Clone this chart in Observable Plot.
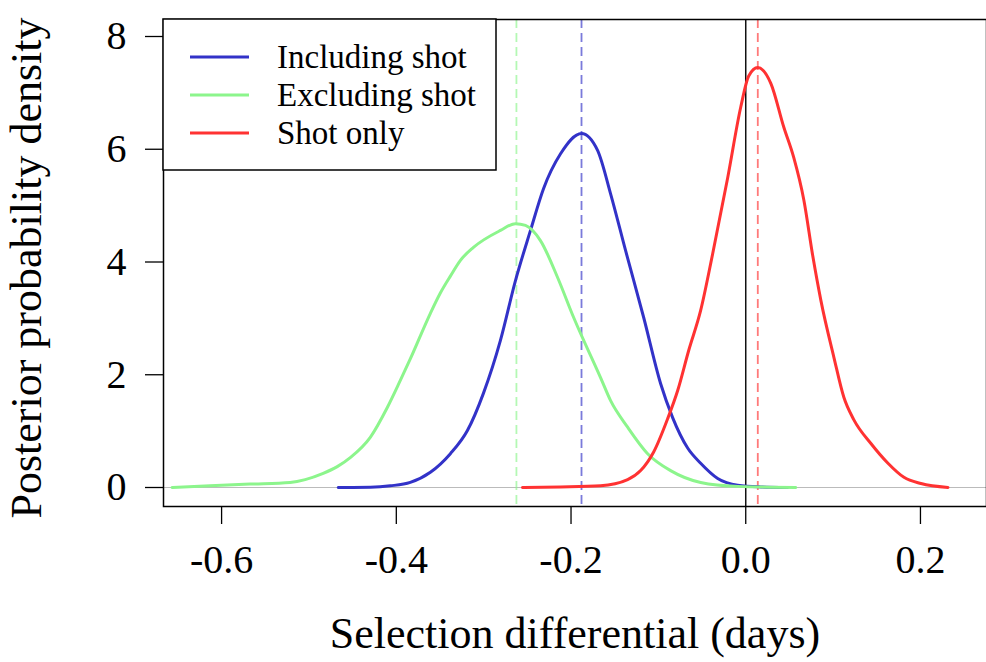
<!DOCTYPE html>
<html>
<head>
<meta charset="utf-8">
<script src="https://cdn.jsdelivr.net/npm/d3@7"></script>
<script src="https://cdn.jsdelivr.net/npm/@observablehq/plot@0.6"></script>
<style>
  html, body { margin: 0; padding: 0; background: #fff; }
  #chart svg { display: block; }
</style>
</head>
<body>
<div id="chart"></div>
<script>
// Series names and colours
const seriesNames = ["Including shot", "Excluding shot", "Shot only"];
const seriesColors = ["#3232c8", "#8cf58c", "#ff3232"];

// Including shot (blue) density curve
const inclX = [-0.4665, -0.4298, -0.4069, -0.3840, -0.3610, -0.3381, -0.3186, -0.3003, -0.2808, -0.2636, -0.2464, -0.2315, -0.2120, -0.1880, -0.1696, -0.1547, -0.1375, -0.1169, -0.0974, -0.0837, -0.0665, -0.0516, -0.0321, -0.0092, 0.0172, 0.0480];
const inclY = [0, 0.005, 0.03, 0.09, 0.27, 0.60, 1.01, 1.67, 2.61, 3.67, 4.56, 5.30, 5.92, 6.28, 5.98, 5.21, 4.20, 3.02, 1.84, 1.24, 0.70, 0.43, 0.16, 0.04, 0.01, 0];

// Excluding shot (green) density curve
const exclX = [-0.6567, -0.6132, -0.5673, -0.5215, -0.5043, -0.4837, -0.4676, -0.4527, -0.4298, -0.4103, -0.3954, -0.3840, -0.3610, -0.3496, -0.3381, -0.3266, -0.3117, -0.2808, -0.2636, -0.2521, -0.2350, -0.2155, -0.1971, -0.1662, -0.1547, -0.1352, -0.1123, -0.0860, -0.0516, -0.0092, 0.0573];
const exclY = [0, 0.03, 0.06, 0.09, 0.14, 0.25, 0.37, 0.53, 0.89, 1.42, 1.90, 2.28, 3.09, 3.45, 3.75, 4.03, 4.26, 4.56, 4.68, 4.65, 4.38, 3.73, 3.02, 1.95, 1.54, 1.07, 0.60, 0.30, 0.09, 0.02, 0];

// Shot only (red) density curve
const shotX = [-0.2556, -0.2120, -0.1662, -0.1352, -0.1203, -0.1054, -0.0894, -0.0779, -0.0653, -0.0516, -0.0378, -0.0206, -0.0057, 0.0034, 0.0138, 0.0287, 0.0436, 0.0550, 0.0665, 0.0768, 0.0860, 0.1009, 0.1123, 0.1238, 0.1433, 0.1628, 0.1811, 0.2006, 0.2315];
const shotY = [0, 0.01, 0.03, 0.14, 0.30, 0.63, 1.22, 1.72, 2.43, 3.14, 4.15, 5.50, 6.75, 7.30, 7.45, 7.17, 6.39, 5.85, 5.10, 4.10, 3.32, 2.31, 1.60, 1.20, 0.78, 0.43, 0.18, 0.07, 0];

// Posterior means (dashed lines)
const meanValues = [-0.188, -0.2625, 0.0138];

// Axis ticks
const xTicks = [-0.6, -0.4, -0.2, 0.0, 0.2];
const yTicks = [0, 2, 4, 6, 8];
const xLabel = "Selection differential (days)";
const yLabel = "Posterior probability density";

const curveData = [];
[[inclX, inclY], [exclX, exclY], [shotX, shotY]].forEach(([xs, ys], i) => {
  xs.forEach((x, j) => curveData.push({series: seriesNames[i], x, y: ys[j]}));
});
const means = meanValues.map((m, i) => ({series: seriesNames[i], x: m}));

const FONT = "'Liberation Serif', 'DejaVu Serif', serif";

const plot = Plot.plot({
  width: 986,
  height: 662,
  marginLeft: 163,
  marginRight: 0,
  marginTop: 19,
  marginBottom: 156,
  style: {fontFamily: FONT, color: "black", background: "white"},
  x: {domain: [-0.6665, 0.2756]},
  y: {domain: [-0.337, 8.3016]},
  color: {domain: seriesNames, range: seriesColors},
  marks: [
    Plot.ruleY([0], {stroke: "#bbbbbb", strokeWidth: 1.2}),
    Plot.ruleX(means, {x: "x", stroke: "series", strokeWidth: 1.8, strokeOpacity: 0.65, strokeDasharray: "9,5"}),
    Plot.ruleX([0], {stroke: "#111", strokeWidth: 1.5}),
    Plot.line(curveData, {x: "x", y: "y", z: "series", stroke: "series", strokeWidth: 3, curve: "monotone-x"}),
    Plot.frame({stroke: "black", strokeWidth: 1.5}),
    Plot.axisX({ticks: xTicks, tickFormat: d => d.toFixed(1), tickSize: 18, tickPadding: 20, fontSize: 40, label: null, strokeWidth: 1.3}),
    Plot.axisY({ticks: yTicks, tickFormat: d => String(d), tickSize: 18, tickPadding: 19, fontSize: 40, label: null, strokeWidth: 1.3}),
    Plot.text([xLabel], {frameAnchor: "bottom", dy: 141, fontSize: 44, text: d => d}),
    Plot.text([yLabel], {frameAnchor: "left", textAnchor: "middle", dx: -137, dy: 5, rotate: -90, fontSize: 44, text: d => d})
  ]
});

document.getElementById("chart").appendChild(plot);

// Legend (drawn into the same SVG)
const svg = d3.select(plot);
const lg = svg.append("g").attr("font-family", FONT).attr("text-anchor", "start");
lg.append("rect").attr("x", 163).attr("y", 19).attr("width", 333).attr("height", 151)
  .attr("fill", "white").attr("stroke", "black").attr("stroke-width", 1.5);
const lineYs = [57, 95, 133];
seriesNames.forEach((name, i) => {
  lg.append("line").attr("x1", 190).attr("x2", 249).attr("y1", lineYs[i]).attr("y2", lineYs[i])
    .attr("stroke", seriesColors[i]).attr("stroke-width", 3);
  lg.append("text").attr("x", 277).attr("y", lineYs[i] + 11).attr("font-size", 33)
    .attr("text-anchor", "start").attr("fill", "black").text(name);
});
</script>
</body>
</html>
